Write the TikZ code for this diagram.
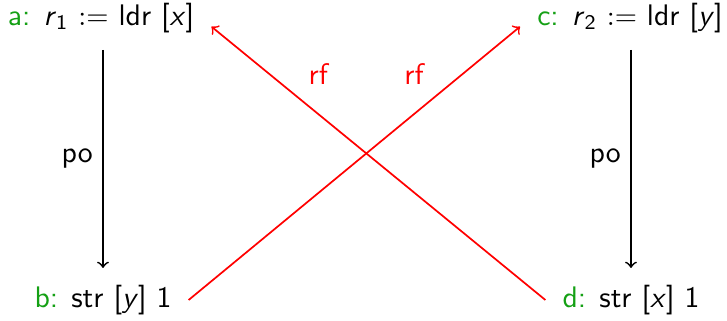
\documentclass[tikz,border=0pt]{standalone}
\usepackage{xcolor}
\usepackage{tikz}
\usetikzlibrary{arrows, positioning}

\definecolor{evgreen}{RGB}{20,160,20}
\newcommand{\evlbl}[1]{\textcolor{evgreen}{#1:}}

\begin{document}
\begin{tikzpicture}[
    x=0.0123cm, y=-0.0123cm,
    font=\sffamily\fontsize{10.4}{12.5}\selectfont,
    instr/.style={inner sep=2pt, outer sep=4pt},
    po/.style={->, semithick},
    rf/.style={->, red, semithick},
    lab/.style={font=\sffamily\fontsize{10.4}{12.5}\selectfont}
]
    \useasboundingbox (0,0) rectangle (727,321);

    \node [instr] (a) at (101,18) {\evlbl{a} \textit{r}\textsubscript{1} $\mathrel{:=}$ ldr [\textit{x}]};
    \node [instr] (c) at (630,18) {\evlbl{c} \textit{r}\textsubscript{2} $\mathrel{:=}$ ldr [\textit{y}]};
    \node [instr] (b) at (103,300) {\evlbl{b} str [\textit{y}] 1};
    \node [instr] (d) at (631,300) {\evlbl{d} str [\textit{x}] 1};

    \draw [po] (a.south -| b) -- (b) node[midway, left, lab] {po};
    \draw [po] (c.south -| d) -- (d) node[midway, left, lab] {po};

    \draw [rf] (d.west) -- ([yshift=-3pt]a.east) node[pos=0.68, above=0.23cm] {rf};
    \draw [rf] (b.east) -- ([yshift=-3pt]c.west) node[pos=0.68, above=0.23cm] {rf};
\end{tikzpicture}
\end{document}
